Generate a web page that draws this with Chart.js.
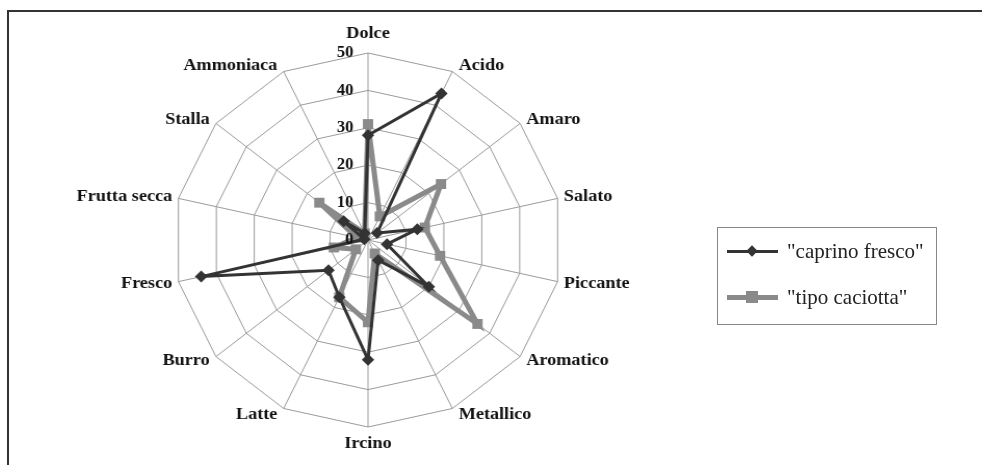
<!DOCTYPE html>
<html>
<head>
<meta charset="utf-8">
<script src="https://cdn.jsdelivr.net/npm/chart.js@4"></script>
<style>
  html, body { margin: 0; padding: 0; background: #fff; overflow: hidden; }
  body { width: 982px; height: 465px; position: relative; }
  .frame { position: absolute; left: 7px; top: 10px; right: -4px; bottom: -4px; border-left: 2px solid #333; border-top: 2px solid #333; }
  .wrap { position: absolute; left: 0; top: 0; width: 736px; height: 480px; transform-origin: 368px 240px; transform: scaleX(1.04); }
  .legend { position: absolute; left: 717px; top: 227px; width: 218px; height: 96px; border: 1px solid #888; font-family: "Liberation Serif", serif; font-size: 21px; color: #222; }
  .item { position: absolute; left: 9px; width: 205px; height: 24px; }
  .item .line { position: absolute; left: 0; width: 51px; }
  .item .mk { position: absolute; }
  .item span { position: absolute; left: 60px; top: 0; line-height: 24px; white-space: nowrap; }
</style>
</head>
<body>
<div class="frame"></div>
<div class="wrap"><canvas id="myChart"></canvas></div>
<div class="legend">
  <div class="item" style="top:11px">
    <div class="line" style="height:3px;background:#333;top:10.5px"></div>
    <div class="mk" style="left:21px;top:8px;width:8px;height:8px;background:#333;transform:rotate(45deg)"></div>
    <span id="lab0"></span>
  </div>
  <div class="item" style="top:57px">
    <div class="line" style="height:5px;background:#8a8a8a;top:9.5px"></div>
    <div class="mk" style="left:19px;top:6px;width:12px;height:12px;background:#8a8a8a"></div>
    <span id="lab1"></span>
  </div>
</div>
<script>
const categories = ['Dolce', 'Acido', 'Amaro', 'Salato', 'Piccante', 'Aromatico', 'Metallico',
    'Ircino', 'Latte', 'Burro', 'Fresco', 'Frutta secca', 'Stalla', 'Ammoniaca'];
const caprinoFresco = [28, 43.5, 3, 13, 5, 20, 6, 32, 17, 13, 44, 1, 8, 2];
const tipoCaciotta = [31, 7, 24, 15, 19, 36, 4, 22, 17, 4, 9, 3, 16, 2];
const tickValues = [0, 10, 20, 30, 40, 50];
const seriesNames = ['"caprino fresco"', '"tipo caciotta"'];

document.getElementById('lab0').textContent = seriesNames[0];
document.getElementById('lab1').textContent = seriesNames[1];

// tick labels left of the Dolce spoke, category labels beside the outer corners (Excel style)
const labelPlugin = {
    id: 'excelLabels',
    afterDatasetsDraw(chart) {
        const scale = chart.scales.r;
        const c = chart.ctx;
        c.save();
        c.fillStyle = '#111';
        c.textBaseline = 'middle';

        c.font = 'bold 16px "Liberation Serif"';
        c.textAlign = 'right';
        tickValues.forEach(v => {
            const d = scale.getDistanceFromCenterForValue(v);
            c.fillText(String(v), scale.xCenter - 14, scale.yCenter - d);
        });

        c.font = 'bold 17.5px "Liberation Serif"';
        const n = categories.length;
        categories.forEach((name, i) => {
            const a = i * 2 * Math.PI / n;
            const s = Math.sin(a), co = Math.cos(a);
            const p = scale.getPointPosition(i, scale.drawingArea);
            if (Math.abs(s) < 0.01) {
                c.textAlign = 'center';
                c.fillText(name, p.x, co > 0 ? p.y - 20 : p.y + 16);
            } else {
                c.textAlign = s > 0 ? 'left' : 'right';
                c.fillText(name, p.x + (s > 0 ? 6 : -6), p.y - 7 * co);
            }
        });
        c.restore();
    }
};

var ctx = document.getElementById('myChart');
var myChart = new Chart(ctx, {
    type: 'radar',
    data: {
        labels: categories,
        datasets: [
            {
                label: seriesNames[0],
                data: caprinoFresco,
                borderColor: '#333333',
                backgroundColor: '#333333',
                borderWidth: 3,
                fill: false,
                pointStyle: 'rectRot',
                pointRadius: 6,
                pointBorderWidth: 0,
                pointBackgroundColor: '#333333'
            },
            {
                label: seriesNames[1],
                data: tipoCaciotta,
                borderColor: '#8a8a8a',
                backgroundColor: '#8a8a8a',
                borderWidth: 5,
                fill: false,
                pointStyle: 'rect',
                pointRadius: 7,
                pointBorderWidth: 0,
                pointBackgroundColor: '#8a8a8a'
            }
        ]
    },
    options: {
        responsive: true,
        maintainAspectRatio: false,
        animation: false,
        layout: { padding: { top: 53, bottom: 53 } },
        plugins: {
            legend: { display: false },
            tooltip: { enabled: false }
        },
        scales: {
            r: {
                min: 0,
                max: 50,
                ticks: { stepSize: 10, display: false },
                grid: { color: '#9a9a9a', lineWidth: 1 },
                angleLines: { color: '#9a9a9a', lineWidth: 1 },
                pointLabels: { display: false }
            }
        }
    },
    plugins: [labelPlugin]
});
</script>
</body>
</html>
